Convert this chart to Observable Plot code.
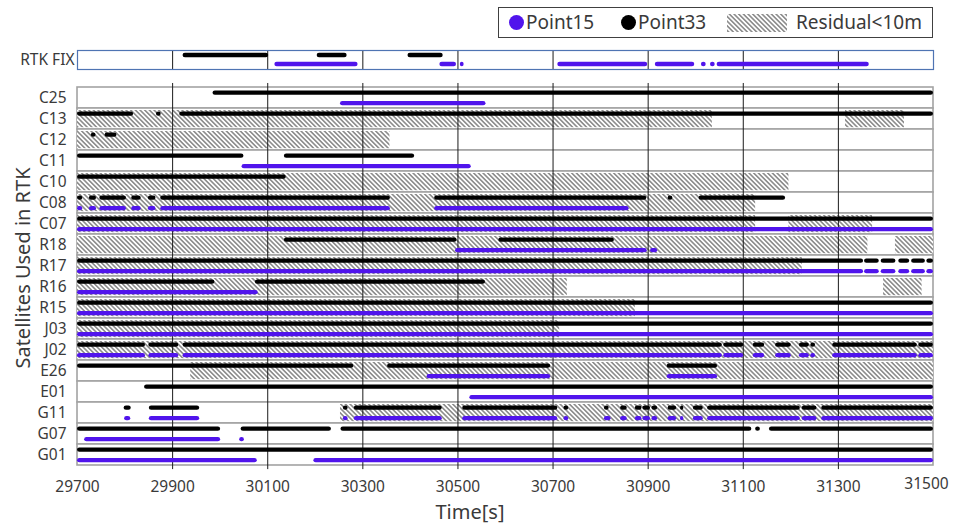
<!DOCTYPE html>
<html>
<head>
<meta charset="utf-8">
<script src="https://cdn.jsdelivr.net/npm/d3@7"></script>
<script src="https://cdn.jsdelivr.net/npm/@observablehq/plot@0.6"></script>
<style>
  body { margin: 0; background: #fff; }
  #wrap { position: relative; width: 953px; height: 524px; overflow: hidden; background: #fff;
          font-family: "Noto Sans", sans-serif; color: #3a3a3a; }
  .ytitle { position: absolute; left: 22px; top: 268px; transform: translate(-50%, -50%) rotate(-90deg);
            white-space: nowrap; font-size: 20px; }
  .xtitle { position: absolute; left: 470px; top: 511px; transform: translate(-50%, -50%);
            white-space: nowrap; font-size: 20px; }
  .legend { position: absolute; left: 498px; top: 7px; width: 435px; height: 31px; border: 1px solid #404040; box-sizing: border-box; }
  .legend .dot { position: absolute; top: 7px; width: 15px; height: 15px; border-radius: 50%; }
  .legend .lab { position: absolute; top: 0px; line-height: 29px; font-size: 19px; white-space: nowrap; }
  .legend svg { position: absolute; top: 6px; }
</style>
</head>
<body>
<div id="wrap"></div>
<script>
// ---------------- data ----------------
const satellites = ["C25","C13","C12","C11","C10","C08","C07","R18","R17","R16","R15","J03","J02","E26","E01","G11","G07","G01"];
const rtkLabel = ["RTK FIX"];
const xTicks = [29700, 29900, 30100, 30300, 30500, 30700, 30900, 31100, 31300, 31500];

// RTK FIX epochs [start, end] (s)
const rtkPoint33 = [[29922,30102],[30204,30267],[30395,30469]];
const rtkPoint15 = [[30115,30290],[30462,30497],[30505,30513],[30710,30899],[30915,30998],[31012,31022],[31031,31041],[31045,31365]];

// Satellite used by Point33 [sat, start, end]
const point33 = [
  ["C25",29985,31500],
  ["C13",29700,29818],["C13",29866,29876],["C13",29915,31500],
  ["C12",29729,29739],["C12",29758,29783],
  ["C11",29700,30050],["C11",30135,30409],
  ["C10",29700,30139],
  ["C08",29700,29711],["C08",29725,29740],["C08",29747,29803],["C08",29814,29834],["C08",29849,29865],["C08",29875,30358],["C08",30451,30897],["C08",30942,30952],["C08",31007,31189],
  ["C07",29700,31500],
  ["R18",30135,30498],["R18",30586,30829],
  ["R17",29700,31353],["R17",31355,31386],["R17",31390,31421],["R17",31427,31450],["R17",31454,31483],["R17",31486,31500],
  ["R16",29700,29989],["R16",30074,30558],
  ["R15",29700,31500],
  ["J03",29700,31500],
  ["J02",29700,29843],["J02",29850,29913],["J02",29922,31056],["J02",31059,31101],["J02",31121,31145],["J02",31168,31201],["J02",31218,31239],["J02",31242,31252],["J02",31288,31466],["J02",31469,31500],
  ["E26",29700,30281],["E26",30352,30695],["E26",30940,31046],
  ["E01",29841,31500],
  ["G11",29798,29813],["G11",29851,29957],["G11",30259,30269],["G11",30282,30467],["G11",30510,30710],["G11",30723,30733],["G11",30808,30818],["G11",30842,30856],["G11",30873,30887],["G11",30889,30905],["G11",30908,30920],["G11",30942,30960],["G11",30968,30975],["G11",30995,31016],["G11",31025,31220],["G11",31224,31255],["G11",31265,31500],
  ["G07",29700,30001],["G07",30044,30234],["G07",30254,31118],["G07",31126,31136],["G07",31155,31500],
  ["G01",29700,31500]
];

// Satellite used by Point15 [sat, start, end]
const point15 = [
  ["C25",30253,30559],
  ["C11",30046,30528],
  ["C08",29700,29711],["C08",29725,29740],["C08",29747,29803],["C08",29814,29834],["C08",29849,29865],["C08",29875,30358],["C08",30451,30860],
  ["C07",29700,31500],
  ["R18",30495,30898],["R18",30905,30920],
  ["R17",29700,31353],["R17",31355,31386],["R17",31390,31421],["R17",31427,31450],["R17",31454,31483],["R17",31486,31500],
  ["R16",29700,30080],
  ["R15",29700,31500],
  ["J03",29700,31500],
  ["J02",29700,29843],["J02",29850,29913],["J02",29922,31056],["J02",31059,31101],["J02",31121,31145],["J02",31168,31201],["J02",31218,31239],["J02",31242,31252],["J02",31288,31466],["J02",31469,31500],
  ["E26",30435,30695],["E26",30940,31046],
  ["E01",30525,31500],
  ["G11",29799,29812],["G11",29851,29957],["G11",30259,30269],["G11",30282,30467],["G11",30510,30710],["G11",30723,30733],["G11",30808,30822],["G11",30842,30856],["G11",30873,30887],["G11",30889,30905],["G11",30908,30920],["G11",30942,30960],["G11",30968,30975],["G11",30995,31016],["G11",31025,31220],["G11",31224,31255],["G11",31265,31500],
  ["G07",29715,30001],["G07",30041,30051],
  ["G01",29700,30078],["G01",30197,31500]
];

// Residual < 10 m [sat, start, end]
const residual = [
  ["C13",29700,31035],["C13",31315,31439],
  ["C12",29700,30357],
  ["C10",29700,31196],
  ["C08",29700,31126],
  ["C07",29700,31126],["C07",31196,31372],
  ["R18",29700,31362],["R18",31420,31500],
  ["R17",29700,31224],
  ["R16",29700,30730],["R16",31395,31476],
  ["R15",29700,30873],
  ["J03",29700,30714],
  ["J02",29700,31500],
  ["E26",29938,31500],
  ["G11",30253,31500]
];

// ---------------- style ----------------
const FONT = '"Noto Sans", sans-serif';
const PURPLE = "#5014ec";
const BLACK = "#000000";
const TEXT = "#3a3a3a";
const W = 953, ML = 77, MR = 20;
const xDomain = [xTicks[0], xTicks[xTicks.length - 1]];
const innerTicks = xTicks.slice(1, -1);

const wrap = document.getElementById("wrap");

function addHatch(svg, id) {
  const defs = d3.select(svg).insert("defs", ":first-child");
  const s = 3.3;
  const p = defs.append("pattern").attr("id", id).attr("patternUnits", "userSpaceOnUse")
    .attr("width", s).attr("height", s).attr("patternTransform", "rotate(-45)");
  p.append("rect").attr("width", s).attr("height", s).attr("fill", "#ffffff");
  p.append("line").attr("x1", s / 2).attr("y1", -1).attr("x2", s / 2).attr("y2", s + 1)
    .attr("stroke", "#6a6a6a").attr("stroke-width", 1.25);
}
function place(svg, top) {
  svg.style.position = "absolute";
  svg.style.left = "0px";
  svg.style.top = top + "px";
  svg.style.maxWidth = "none";
  wrap.appendChild(svg);
}

// ---------------- RTK FIX panel ----------------
const rtkH = 19;
const rtkMT = 5, rtkMB = 4;
const lineW = 4.6;
const rtkBlackTop = 5 - lineW / 2;
const rtkPurpleTop = 14 - lineW / 2;

const topPlot = Plot.plot({
  width: W, height: rtkMT + rtkH + rtkMB,
  marginLeft: ML, marginRight: MR, marginTop: rtkMT, marginBottom: rtkMB,
  style: { fontFamily: FONT, fontSize: "15.5px", color: TEXT, background: "transparent", overflow: "visible" },
  x: { domain: xDomain, axis: null },
  y: { type: "band", domain: rtkLabel, padding: 0, tickSize: 0, tickPadding: 3, label: null },
  marks: [
    Plot.ruleX(innerTicks, { stroke: "#1a1a1a", strokeWidth: 1 }),
    Plot.barX(rtkPoint33, { x1: d => d[0], x2: d => d[1], y: () => rtkLabel[0], fill: BLACK, rx: 2.3,
      insetTop: rtkBlackTop, insetBottom: rtkH - rtkBlackTop - lineW }),
    Plot.barX(rtkPoint15, { x1: d => d[0], x2: d => d[1], y: () => rtkLabel[0], fill: PURPLE, rx: 2.3,
      insetTop: rtkPurpleTop, insetBottom: rtkH - rtkPurpleTop - lineW }),
    Plot.frame({ stroke: "#4f74b3", strokeWidth: 1.2 })
  ]
});
place(topPlot, 50 - rtkMT);

// ---------------- main panel ----------------
const rowH = 21.45;
const plotH = rowH * satellites.length;
const MT = 8, MB = 30;
const blackTop = 5.9 - lineW / 2;
const purpleTop = 16.4 - lineW / 2;

const mainPlot = Plot.plot({
  width: W, height: MT + plotH + MB,
  marginLeft: ML, marginRight: MR, marginTop: MT, marginBottom: MB,
  style: { fontFamily: FONT, fontSize: "15.5px", color: TEXT, background: "transparent", overflow: "visible" },
  x: { domain: xDomain, label: null },
  y: { type: "band", domain: satellites, padding: 0, tickSize: 0, tickPadding: 11, label: null },
  marks: [
    Plot.barX(satellites, { x1: () => xDomain[0], x2: () => xDomain[1], y: d => d, fill: "#ffffff", stroke: "#a3a3a3", strokeWidth: 1.6 }),
    Plot.barX(residual, { x1: d => d[1], x2: d => d[2], y: d => d[0], fill: "url(#hatch)", insetTop: 2, insetBottom: 1.8 }),
    Plot.ruleX(innerTicks, { stroke: "#1a1a1a", strokeWidth: 1 }),
    Plot.barX(point33, { x1: d => d[1], x2: d => d[2], y: d => d[0], fill: BLACK, rx: 2.3,
      insetTop: blackTop, insetBottom: rowH - blackTop - lineW }),
    Plot.barX(point15, { x1: d => d[1], x2: d => d[2], y: d => d[0], fill: PURPLE, rx: 2.3,
      insetTop: purpleTop, insetBottom: rowH - purpleTop - lineW }),
    Plot.axisX(xTicks.slice(0, -1), { tickFormat: d => String(d), tickSize: 0, tickPadding: 11, label: null }),
    Plot.axisX(xTicks.slice(-1), { tickFormat: d => String(d), tickSize: 0, tickPadding: 11, dx: -7, dy: -3, label: null }),
    Plot.axisY({ tickSize: 0, tickPadding: 11, label: null })
  ]
});
addHatch(mainPlot, "hatch");
place(mainPlot, 83 - MT);

// ---------------- titles ----------------
const yt = document.createElement("div");
yt.className = "ytitle"; yt.textContent = "Satellites Used in RTK";
wrap.appendChild(yt);
const xt = document.createElement("div");
xt.className = "xtitle"; xt.textContent = "Time[s]";
wrap.appendChild(xt);

// ---------------- legend ----------------
const legend = document.createElement("div");
legend.className = "legend";
legend.innerHTML = `
  <div class="dot" style="left:10px;background:${PURPLE}"></div>
  <div class="lab" style="left:27px">Point15</div>
  <div class="dot" style="left:122px;background:${BLACK}"></div>
  <div class="lab" style="left:139px">Point33</div>
  <svg width="60" height="18" style="left:228px">
    <defs>
      <pattern id="hatchLegend" patternUnits="userSpaceOnUse" width="3.3" height="3.3" patternTransform="rotate(-45)">
        <rect width="3.3" height="3.3" fill="#fff"></rect>
        <line x1="1.65" y1="-1" x2="1.65" y2="4.3" stroke="#6a6a6a" stroke-width="1.25"></line>
      </pattern>
    </defs>
    <rect x="0" y="0" width="60" height="18" fill="url(#hatchLegend)"></rect>
  </svg>
  <div class="lab" style="left:297px">Residual&lt;10m</div>
`;
wrap.appendChild(legend);
</script>
</body>
</html>
